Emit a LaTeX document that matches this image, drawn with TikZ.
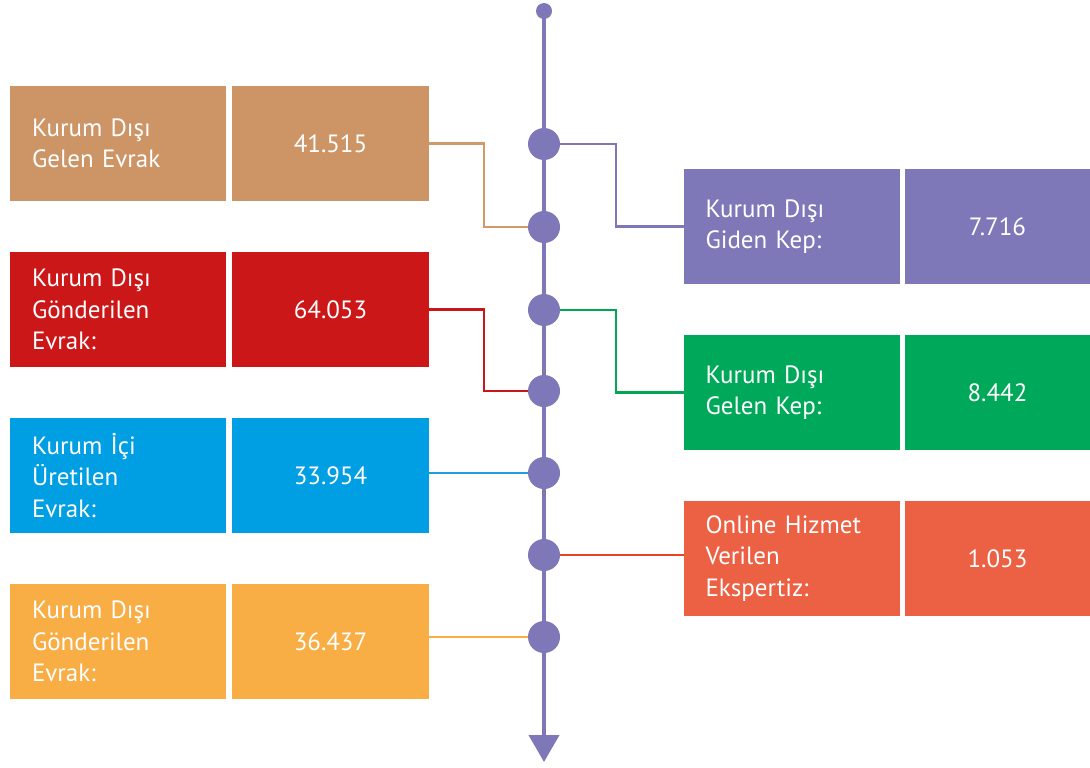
\documentclass[tikz,border=0pt]{standalone}
\usepackage{fontspec}
\setmainfont{PT Sans}
\usetikzlibrary{arrows.meta,backgrounds}
\definecolor{cTan}{HTML}{CD9566}
\definecolor{cRed}{HTML}{CC1719}
\definecolor{cBlue}{HTML}{009FE3}
\definecolor{cYel}{HTML}{F8AE45}
\definecolor{cPur}{HTML}{7E78B8}
\definecolor{cGrn}{HTML}{00A859}
\definecolor{cOrg}{HTML}{EC6044}
\definecolor{lTan}{HTML}{D19A68}
\definecolor{lRed}{HTML}{C8161B}
\definecolor{lBlue}{HTML}{1AA0DF}
\definecolor{lGrn}{HTML}{00A651}
\definecolor{lOrg}{HTML}{E6461E}
\definecolor{lYel}{HTML}{F7AE44}
\begin{document}
\begin{tikzpicture}[x=1pt,y=-1pt,
  every node/.style={inner sep=0pt,outer sep=0pt},
  txt/.style={text=white,font=\fontsize{25}{31.5}\selectfont},
  lbox/.style={txt,minimum width=216pt,minimum height=115pt,text width=172pt,inner xsep=22pt,align=left},
  vbox/.style={txt,minimum width=197pt,minimum height=115pt,align=center},
  rvbox/.style={txt,minimum width=185pt,minimum height=115pt,align=center},
  bigdot/.style={circle,fill=cPur,minimum size=32pt},
  conn/.style={line width=2.4pt}]
\useasboundingbox (0,0) rectangle (1090,768);
% spine
\node[circle,fill=cPur,minimum size=16pt] (top) at (544,11) {};
\coordinate (bottom) at (544,762);
\draw[cPur,line width=4pt,-{Triangle[length=27pt,width=30pt]}] (top.center) -- (bottom);
% left boxes
\node[lbox,fill=cTan] (l1) at (118,143.5) {Kurum Dışı\\Gelen Evrak};
\node[vbox,fill=cTan] (v1) at (330.5,143.5) {41.515};
\node[lbox,fill=cRed] (l2) at (118,309.5) {Kurum Dışı\\Gönderilen\\Evrak:};
\node[vbox,fill=cRed] (v2) at (330.5,309.5) {64.053};
\node[lbox,fill=cBlue] (l3) at (118,475.5) {Kurum İçi\\Üretilen\\Evrak:};
\node[vbox,fill=cBlue] (v3) at (330.5,475.5) {33.954};
\node[lbox,fill=cYel] (l4) at (118,641.5) {Kurum Dışı\\Gönderilen\\Evrak:};
\node[vbox,fill=cYel] (v4) at (330.5,641.5) {36.437};
% right boxes
\node[lbox,fill=cPur] (r1) at (791.5,226.5) {Kurum Dışı\\Giden Kep:};
\node[rvbox,fill=cPur] (w1) at (997.5,226.5) {7.716};
\node[lbox,fill=cGrn] (r2) at (791.5,392.5) {Kurum Dışı\\Gelen Kep:};
\node[rvbox,fill=cGrn] (w2) at (997.5,392.5) {8.442};
\node[lbox,fill=cOrg] (r3) at (791.5,558.5) {Online Hizmet\\Verilen\\Ekspertiz:};
\node[rvbox,fill=cOrg] (w3) at (997.5,558.5) {1.053};
% dots
\node[bigdot] (c1) at (544,144) {};
\node[bigdot] (c2) at (544,227) {};
\node[bigdot] (c3) at (544,310) {};
\node[bigdot] (c4) at (544,391) {};
\node[bigdot] (c5) at (544,473) {};
\node[bigdot] (c6) at (544,555) {};
\node[bigdot] (c7) at (544,637) {};
% connectors
\begin{scope}[on background layer]
\draw[conn,lTan] (v1.east) -- (484,143.5) |- (c2.center);
\draw[conn,lRed] (v2.east) -- (484,309.5) |- (c4.center);
\draw[conn,lBlue] (v3.east |- c5) -- (c5.center);
\draw[conn,lYel] (v4.east |- c7) -- (c7.center);
\draw[conn,cPur] (c1.center) -- (616,144) |- (r1.west);
\draw[conn,lGrn] (c3.center) -- (616,310) |- (r2.west);
\draw[conn,lOrg] (c6.center) -- (r3.west |- c6);
\end{scope}
\end{tikzpicture}
\end{document}
